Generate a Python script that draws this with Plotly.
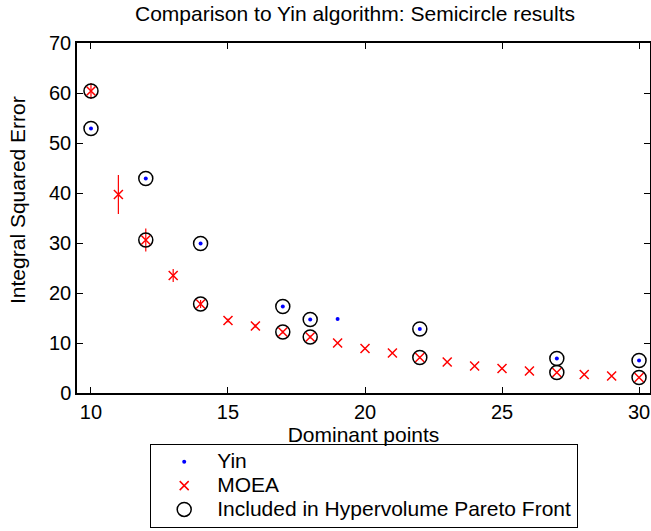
import plotly.graph_objects as go

# ---- data ----
yin_x = [10, 12, 14, 17, 18, 19, 22, 27, 30]
yin_y = [52.9, 42.9, 29.9, 17.3, 14.7, 14.8, 12.8, 6.9, 6.5]
yin_pareto = [True, True, True, True, True, False, True, True, True]

moea_x = [10, 11, 12, 13, 14, 15, 16, 17, 18, 19, 20, 21, 22, 23, 24, 25, 26, 27, 28, 29, 30]
moea_y = [60.4, 39.7, 30.6, 23.5, 17.8, 14.5, 13.4, 12.2, 11.2, 10.0, 8.9, 8.0, 7.1, 6.2, 5.4, 4.9,
          4.4, 4.1, 3.7, 3.4, 3.1]
moea_err = [1.6, 3.9, 2.3, 1.3, 0.8, 0.4, 0.3, 0.3, 0.3, 0.2, 0.2, 0.2, 0.2, 0.1, 0.1, 0.1,
            0.1, 0.1, 0.1, 0.1, 0.1]
moea_pareto_x = [10, 12, 14, 17, 18, 22, 27, 30]

title_text = "Comparison to Yin algorithm: Semicircle results"
x_title = "Dominant points"
y_title = "Integral Squared Error"
series_names = ["Yin", "MOEA", "Included in Hypervolume Pareto Front"]
x_ticks = [10, 15, 20, 25, 30]
y_ticks = [0, 10, 20, 30, 40, 50, 60, 70]

# ---- build pareto set ----
par_x = [x for x, p in zip(yin_x, yin_pareto) if p]
par_y = [y for y, p in zip(yin_y, yin_pareto) if p]
for x, y in zip(moea_x, moea_y):
    if x in moea_pareto_x:
        par_x.append(x)
        par_y.append(y)

FONT = "Liberation Sans, Arial, Helvetica, sans-serif"
FS = 20
FT = 21


def leg_name(s):
    return '<span style="font-size:21px">' + s + '</span>'


fig = go.Figure()
fig.add_trace(go.Scatter(
    x=yin_x, y=yin_y, mode="markers", name=leg_name(series_names[0]),
    marker=dict(symbol="circle", size=4, color="#0000ff", line=dict(width=0)),
))
fig.add_trace(go.Scatter(
    x=moea_x, y=moea_y, mode="markers", name=leg_name(series_names[1]),
    marker=dict(symbol="x-thin", size=9, color="#ff0000", line=dict(width=1.5, color="#ff0000")),
    error_y=dict(type="data", array=moea_err, visible=True, color="#ff0000", thickness=1.2, width=0),
))
fig.add_trace(go.Scatter(
    x=par_x, y=par_y, mode="markers", name=leg_name(series_names[2]),
    marker=dict(symbol="circle-open", size=14, color="black", line=dict(width=1.5, color="black")),
))

axis_common = dict(
    showline=True, linecolor="black", linewidth=1.5, mirror="ticks",
    ticks="inside", ticklen=6, tickwidth=1, tickcolor="black",
    showgrid=False, zeroline=False,
    tickfont=dict(family=FONT, size=FS, color="black"),
)

fig.update_layout(
    width=651, height=531,
    margin=dict(l=77, r=1, t=43, b=138, autoexpand=False),
    paper_bgcolor="white", plot_bgcolor="white",
    font=dict(family=FONT, size=FS, color="black"),
    title=dict(text=title_text, x=355 / 651, xref="container", xanchor="center",
               y=1 - 14 / 531, yref="container", yanchor="middle",
               font=dict(family=FONT, size=FT, color="black")),
    xaxis=dict(range=[9.49, 30.4], tickvals=x_ticks, ticktext=[str(v) for v in x_ticks],
               title=dict(text=x_title, standoff=2, font=dict(family=FONT, size=FT, color="black")),
               **axis_common),
    yaxis=dict(range=[0, 70], tickvals=y_ticks, ticktext=[str(v) for v in y_ticks],
               **axis_common),
    showlegend=True,
    legend=dict(x=0.1274, y=-0.145, xanchor="left", yanchor="top",
                bordercolor="black", borderwidth=1.2, bgcolor="white",
                font=dict(family=FONT, size=16, color="black"),
                itemwidth=56, tracegroupgap=0, traceorder="normal"),
    annotations=[dict(text=y_title, textangle=-90, xref="paper", yref="paper",
                      x=(17 - 77) / 573, y=(393 - 200) / 350, showarrow=False,
                      xanchor="center", yanchor="middle",
                      font=dict(family=FONT, size=FT, color="black"))],
)

fig.write_html("out.html")
